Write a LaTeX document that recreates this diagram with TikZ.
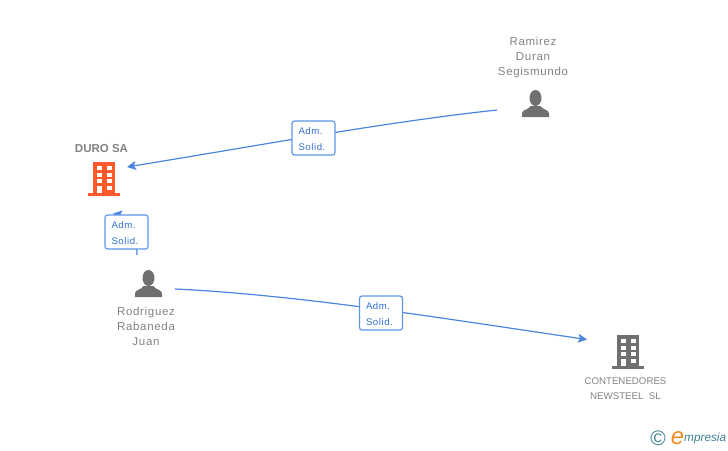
\documentclass[tikz,border=0pt]{standalone}
\usepackage{fontspec}
\setmainfont{Liberation Sans}
\newfontfamily\spaced[LetterSpace=6]{Liberation Sans}
\usetikzlibrary{arrows.meta}
\definecolor{linkblue}{HTML}{4A86E0}
\definecolor{boxblue}{HTML}{5F97E6}
\definecolor{textblue}{HTML}{2F70D0}
\definecolor{namegray}{HTML}{828282}
\definecolor{icongray}{HTML}{707070}
\definecolor{duroorange}{HTML}{FF5A2C}
\definecolor{logoteal}{HTML}{3F8296}
\definecolor{logoorange}{HTML}{F08A1E}
\tikzset{
  building/.pic={
    \fill[pic actions] (-11,0) rectangle (11,-31);
    \fill[pic actions] (-16,0) rectangle (16,3);
    \foreach \wx in {-7.5,2.5} \foreach \wy in {-27,-20.5,-14} \fill[white] (\wx,\wy) rectangle ++(5,4);
    \fill[white] (2.5,-7.5) rectangle ++(5,4);
    \fill[white] (-7.5,-7) rectangle (-2.5,0);
  },
  person/.pic={
    \fill[pic actions] (0,-19) ellipse (6 and 8);
    \fill[pic actions] (-13.5,0) -- (-13.5,-3.5) .. controls (-13.5,-7.5) and (-7,-7) .. (-5,-11) -- (5,-11) .. controls (7,-7) and (13.5,-7.5) .. (13.5,-3.5) -- (13.5,0) -- cycle;
  }
}
\begin{document}
\begin{tikzpicture}[x=1pt,y=-1pt,
        link/.style={draw=linkblue,line width=1.2pt,-{Stealth[length=9pt,width=9pt,inset=2pt]}},
        role/.style={draw=boxblue,line width=1.2pt,rectangle,rounded corners=2.5pt,fill=white,minimum width=43pt,minimum height=34pt,inner sep=0pt,text width=30pt,align=left,text=textblue,font=\spaced\fontsize{9.6}{16}\selectfont,execute at begin node=\rule{0pt}{9.5pt}},
        who/.style={align=center,inner sep=0pt,text=namegray,font=\spaced\fontsize{11.5}{15}\selectfont},
        firm/.style={align=center,inner sep=0pt,text=namegray,font=\fontsize{9.7}{15}\selectfont}
      ]
      \useasboundingbox (0,0) rectangle (728,450);
      % icons
      \pic[fill=duroorange] at (104,193) {building};
      \pic[fill=icongray] at (628,366) {building};
      \pic[fill=icongray] at (535.5,117) {person};
      \pic[fill=icongray] at (148.5,297) {person};
      % texts
      \node[inner sep=0pt,text=namegray,font=\bfseries\fontsize{11.5}{14}\selectfont] (duro) at (101.5,148.5) {DURO SA};
      \node[who] (ramirez) at (533,57.5) {Ramirez\\Duran\\Segismundo};
      \node[who] (rodriguez) at (146,326) {Rodriguez\\Rabaneda\\Juan};
      \node[firm] (newsteel) at (625.5,388.5) {CONTENEDORES\\NEWSTEEL\ \ SL};
      % connector ends
      \coordinate (ramirezEnd) at (497,110);
      \coordinate (duroIn) at (127,167);
      \coordinate (rodriguezUp) at (137,255);
      \coordinate (duroBelow) at (113,213.5);
      \coordinate (rodriguezOut) at (175,289);
      \coordinate (newsteelIn) at (587,339.5);
      % connectors
      \draw[link] (ramirezEnd) .. controls (385,122) and (250,147) .. (duroIn);
      \draw[link] (rodriguezUp) .. controls (137,235) and (128,216) .. (duroBelow);
      \draw[link] (rodriguezOut) .. controls (300,295) and (440,318) .. (newsteelIn);
      % role boxes
      \node[role] (admA) at (313.5,138) {Adm.\\Solid.};
      \node[role] (admB) at (126.5,232) {Adm.\\Solid.};
      \node[role] (admC) at (381,313) {Adm.\\Solid.};
      % logo
      \node[inner sep=0pt,text=logoteal,font=\fontsize{21}{21}\selectfont] (copy) at (658,438.5) {©};
      \node[inner sep=0pt,text=logoorange,font=\itshape\fontsize{24}{24}\selectfont] (logoE) at (677.5,438) {e};
      \node[inner sep=0pt,anchor=west,text=logoteal,font=\itshape\fontsize{11.8}{12}\selectfont] (logo) at (684,438.5) {mpresia};
    \end{tikzpicture}
\end{document}
